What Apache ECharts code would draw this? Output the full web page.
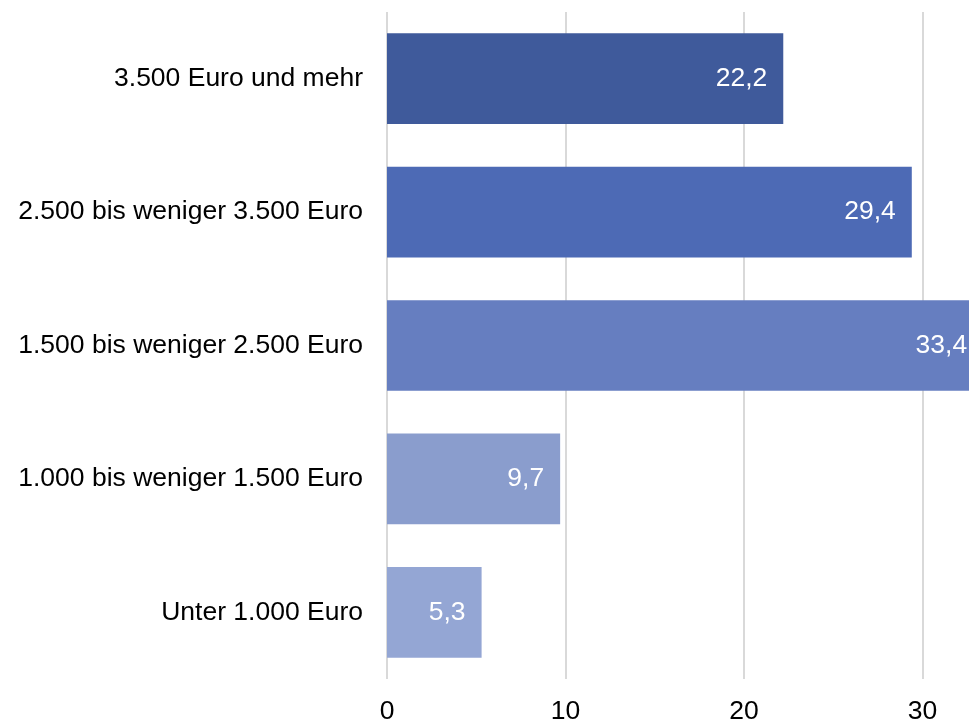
<!DOCTYPE html>
<html>
<head>
<meta charset="utf-8">
<script src="https://cdn.jsdelivr.net/npm/echarts@6/dist/echarts.min.js"></script>
<style>
  html, body { margin: 0; padding: 0; background: #fff; }
  #chart { width: 969px; height: 721px; }
</style>
</head>
<body>
<div id="chart"></div>
<script>
// Kategorien (von oben nach unten)
const categories = [
    '3.500 Euro und mehr',
    '2.500 bis weniger 3.500 Euro',
    '1.500 bis weniger 2.500 Euro',
    '1.000 bis weniger 1.500 Euro',
    'Unter 1.000 Euro'
];
// Anteile in Prozent
const values = [22.2, 29.4, 33.4, 9.7, 5.3];
// Balkenfarben
const barColors = ['#3f5a9b', '#4d6ab5', '#667ec0', '#8a9dcd', '#94a6d4'];
// Achsenbeschriftung
const xTicks = [0, 10, 20, 30, 40];

const chart = echarts.init(document.getElementById('chart'));
chart.setOption({
    animation: false,
    textStyle: { fontFamily: 'Liberation Sans, Arial, sans-serif' },
    grid: {
        left: 387,
        right: -132,
        top: 12,
        bottom: 42,
        containLabel: false,
        outerBoundsMode: 'none'
    },
    xAxis: {
        type: 'value',
        min: xTicks[0],
        max: xTicks[xTicks.length - 1],
        interval: 10,
        axisLine: { show: false },
        axisTick: { show: false },
        splitLine: { lineStyle: { color: '#d9d9d9', width: 2 } },
        axisLabel: { color: '#000', fontSize: 26.5, margin: 19 }
    },
    yAxis: {
        type: 'category',
        inverse: true,
        data: categories,
        axisLine: { show: false },
        axisTick: { show: false },
        axisLabel: { color: '#000', fontSize: 26.5, margin: 24 }
    },
    series: [{
        type: 'bar',
        barCategoryGap: '32%',
        data: values.map((v, i) => ({ value: v, itemStyle: { color: barColors[i] } })),
        label: {
            show: true,
            position: 'insideRight',
            distance: 16,
            color: '#fff',
            fontSize: 26.5,
            formatter: p => String(p.value).replace('.', ',')
        }
    }]
});
</script>
</body>
</html>
